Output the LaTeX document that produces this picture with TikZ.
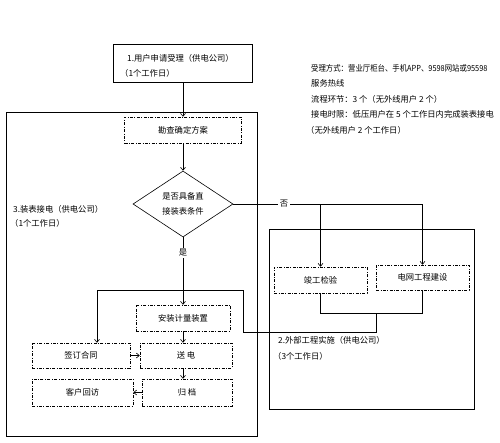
\documentclass[tikz,border=0pt]{standalone}
\usepackage{fontspec}
\setmainfont{Noto Sans CJK SC}
\usetikzlibrary{shapes.geometric,arrows.meta}

\def\fs{8.3}

\begin{document}
\begin{tikzpicture}[x=1pt, y=-1pt,
  every node/.style={font=\fontsize{\fs}{15}\selectfont, inner sep=0pt},
  frame/.style={draw, line width=0.8pt},
  dbox/.style={draw, line width=0.5pt, dash pattern=on 3pt off 1.5pt on 0.8pt off 1.5pt},
  link/.style={line width=0.6pt},
  arr/.style={link, -{Straight Barb[length=3pt,width=5pt]}},
  lbl/.style={fill=white, inner sep=1.5pt}]
      \useasboundingbox (0,0) rectangle (500,442);
      \fill[white] (0,0) rectangle (500,442);

      \node[frame, minimum width=139, minimum height=38] (apply) at (183,63) {};
      \node[frame, minimum width=251, minimum height=324] (connect) at (131.5,274) {};
      \node[frame, minimum width=205, minimum height=180] (outer) at (371.5,319) {};

      \node[anchor=base west] (applyA) at (127,61) {1.用户申请受理（供电公司）};
      \node[anchor=base west] (applyB) at (120,76) {（1个工作日）};
      \node[anchor=base west] (connectA) at (13,212) {3.装表接电（供电公司）};
      \node[anchor=base west] (connectB) at (10,226) {（1个工作日）};
      \node[anchor=base west] (outerA) at (278,343) {2.外部工程实施（供电公司）};
      \node[anchor=base west] (outerB) at (273,359) {（3个工作日）};

      \node[anchor=base west, xscale=0.89] (note1) at (311,71) {受理方式：营业厅柜台、手机APP、9598网站或95598};
      \node[anchor=base west] (note2) at (311,86) {服务热线};
      \node[anchor=base west] (note3) at (311,102) {流程环节：3 个（无外线用户 2 个）};
      \node[anchor=base west] (note4) at (311,117) {接电时限：低压用户在 5 个工作日内完成装表接电};
      \node[anchor=base west] (note5) at (306,133) {（无外线用户 2 个工作日）};

      \node[dbox, minimum width=117, minimum height=26] (survey) at (183,130) {勘查确定方案};
      \node[draw, diamond, line width=0.6pt, minimum width=100, minimum height=66, align=center] (decide) at (183,204) {是否具备直\\接装表条件};
      \node[dbox, minimum width=94, minimum height=26] (meter) at (183,318) {安装计量装置};
      \node[dbox, minimum width=98, minimum height=25] (contract) at (81,355.5) {签订合同};
      \node[dbox, minimum width=92, minimum height=25] (power) at (186,355.5) {送\ 电};
      \node[dbox, minimum width=101, minimum height=27] (visit) at (82.5,392.5) {客户回访};
      \node[dbox, minimum width=90, minimum height=27] (archive) at (187,392.5) {归\ 档};
      \node[dbox, minimum width=93, minimum height=26] (accept) at (320.5,280) {竣工检验};
      \node[dbox, minimum width=93, minimum height=25] (build) at (422.5,277.5) {电网工程建设};

      \coordinate (tap) at (376,313);
      \coordinate (bend) at (243,332);
      \coordinate (fork) at (97,290);

      \draw[arr] (apply.south) -- (survey.north);
      \draw[arr] (survey.south) -- (decide.north);
      \draw[arr] (decide.east) -- (decide.east -| build.north) -- (build.north);
      \draw[arr] (decide.east -| accept.north) -- (accept.north);
      \draw[arr] (decide.south) -- (meter.north);
      \draw[link] (accept.south) -- ++(0,20) -| (build.south);
      \draw[arr] (tap) -- (tap |- bend) -- (bend) -- (bend |- fork) -- (fork) -- (fork |- contract.north);
      \draw[arr] (contract.east) -- (power.west);
      \draw[arr] (meter.south) -- (meter.south |- power.north);
      \draw[arr] (meter.south |- power.south) -- (meter.south |- archive.north);
      \draw[arr] (archive.west) -- (visit.east);

      \node[lbl] (no) at (284,204) {否};
      \node[lbl] (yes) at (183,253) {是};
\end{tikzpicture}
\end{document}
